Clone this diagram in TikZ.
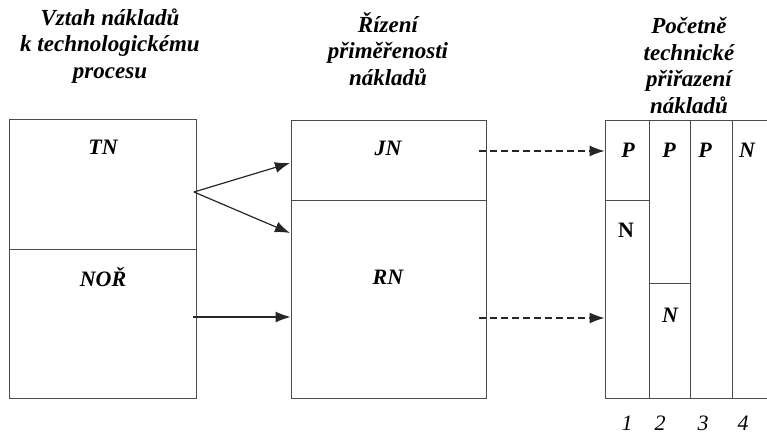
\documentclass[tikz,border=0pt]{standalone}
\usepackage{fontspec}
\setmainfont{Liberation Serif}
\usetikzlibrary{arrows.meta}

\tikzset{
  box/.style n args={2}{draw=black!70, line width=0.9pt, minimum width=#1, minimum height=#2, inner sep=0pt},
  lab/.style={font=\fontsize{22}{26}\selectfont\bfseries\itshape, inner sep=0pt},
  head/.style={font=\fontsize{23}{26.5}\selectfont\bfseries\itshape, inner sep=0pt, align=center, anchor=base},
  num/.style={font=\fontsize{22}{26}\selectfont\itshape, inner sep=0pt},
  arr/.style={-{Latex[length=15pt,width=11pt]}, line width=1.2pt, black!85},
  darr/.style={arr, dash pattern=on 7pt off 4pt}
}

\begin{document}
\begin{tikzpicture}[x=1pt, y=-1pt]
  \useasboundingbox (0,0) rectangle (767,434);

  \node[head] (h1) at (110,78) {Vztah nákladů\\k technologickému\\procesu};
  \node[head] (h2) at (388,85) {Řízení\\přiměřenosti\\nákladů};
  \node[head] (h3) at (689,113) {Početně\\technické\\přiřazení\\nákladů};

  \node[box={187pt}{130pt}] (tn) at (102.5,184) {};
  \node[box={187pt}{149pt}] (nor) at (102.5,323.5) {};
  \node[box={195pt}{80pt}] (jn) at (388.5,160) {};
  \node[box={195pt}{198pt}] (rn) at (388.5,299) {};
  \node[box={44pt}{80pt}] (p1) at (627,160) {};
  \node[box={44pt}{198pt}] (n1) at (627,299) {};
  \node[box={41pt}{163pt}] (p2) at (669.5,201.5) {};
  \node[box={41pt}{115pt}] (n2) at (669.5,340.5) {};
  \node[box={42pt}{278pt}] (p3) at (711,259) {};
  \node[box={40pt}{278pt}] (n4) at (752,259) {};

  \node[lab] (tnl) at (103,147) {TN};
  \node[lab] (norl) at (103,277) {NOŘ};
  \node[lab] (jnl) at (388,148) {JN};
  \node[lab] (rnl) at (388,277) {RN};
  \node[lab] (p1l) at (628,150) {P};
  \node[lab] (p2l) at (669,150) {P};
  \node[lab] (p3l) at (705,150) {P};
  \node[lab] (n4l) at (747,150) {N};
  \node[lab, font=\fontsize{22}{26}\selectfont\bfseries] (n1l) at (626,230) {N};
  \node[lab] (n2l) at (670,315) {N};
  \node[num] (c1) at (627,423) {1};
  \node[num] (c2) at (660,423) {2};
  \node[num] (c3) at (703,423) {3};
  \node[num] (c4) at (743,423) {4};

  \coordinate (fork) at (194,192);
  \coordinate (jnin) at (290,163);
  \coordinate (rnin) at (290,233);
  \coordinate (norout) at (193,317);
  \coordinate (jnout) at (479,151);
  \coordinate (rnout) at (479,318);
  \draw [arr] (fork) -- (jnin);
  \draw [arr] (fork) -- (rnin);
  \draw [arr] (norout) -- (rn.west |- norout);
  \draw [darr] (jnout) -- (p1.west |- jnout);
  \draw [darr] (rnout) -- (n1.west |- rnout);
\end{tikzpicture}
\end{document}
